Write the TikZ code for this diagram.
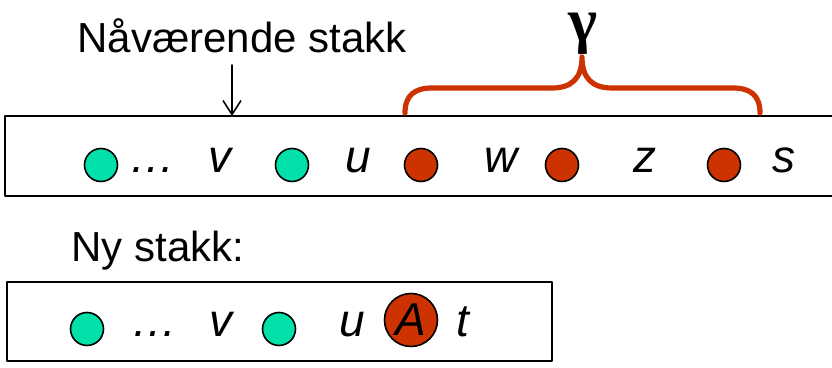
\documentclass[tikz,border=0pt]{standalone}
\usepackage{fontspec}
\setmainfont{Liberation Sans}
\newfontfamily\greekfont{Liberation Serif}
\usetikzlibrary{arrows.meta}
\definecolor{rust}{HTML}{CC3300}
\definecolor{mint}{HTML}{00E0A8}
\tikzset{
  every picture/.style={line join=round, line cap=round, >={Straight Barb[length=7pt,width=9pt]}},
  bigtext/.style={font=\fontsize{21}{25}\selectfont, inner sep=0pt},
  sym/.style={bigtext, font=\fontsize{23}{27}\selectfont\itshape, anchor=base},
  stackbox/.style={draw, line width=1.1pt},
  dot/.style={circle, draw, line width=0.8pt, inner sep=0pt, minimum size=16.5pt},
  olddot/.style={dot, fill=mint},
  newdot/.style={dot, fill=rust},
}
\begin{document}
\begin{tikzpicture}[x=0.5pt,y=-0.5pt]
\useasboundingbox (0,0) rectangle (832,368);
% current stack
\draw[stackbox] (5,116) rectangle (845,196);
\node[bigtext, anchor=base west] (curlabel) at (77,53) {Nåværende stakk};
\coordinate (pointer) at (232,65);
\coordinate (curtop) at (232,116);
\draw[->, line width=0.8pt] (pointer) -- (curtop);
\foreach \x/\n in {101/g1,292/g2}{\node[olddot] (\n) at (\x,165) {};}
\foreach \x/\n in {421/r1,562/r2,724/r3}{\node[newdot] (\n) at (\x,165) {};}
\foreach \x/\t/\n in {152/{\dots}/dots,220/v/v,358/u/u,501/w/w,645/z/z,784/s/s}{\node[sym] (\n) at (\x,173) {\t};}
% gamma brace
\draw[rust, line width=2.6pt] (405,113) .. controls (405,95) and (415,88) .. (432,88) -- (552,88)
  .. controls (572,88) and (582,78) .. (582,57) .. controls (582,78) and (592,88) .. (612,88)
  -- (733,88) .. controls (750,88) and (760,95) .. (760,113);
\node[font=\fontsize{31}{31}\selectfont\greekfont\bfseries, inner sep=0pt, anchor=north] (gamma) at (583,13) {γ};
% new stack
\node[bigtext, anchor=base west] (newlabel) at (71,262) {Ny stakk:};
\draw[stackbox] (7,282) rectangle (552,361);
\foreach \x/\n in {87/ng1,279/ng2}{\node[olddot] (\n) at (\x,329) {};}
\node[newdot, minimum size=26.5pt] (nA) at (411,320) {};
\node[sym, anchor=center] (Alabel) at (nA) {A};
\foreach \x/\t/\n in {154/{\dots}/ndots,221/v/nv,352/u/nu,463/t/nt}{\node[sym] (\n) at (\x,337) {\t};}
\end{tikzpicture}
\end{document}
